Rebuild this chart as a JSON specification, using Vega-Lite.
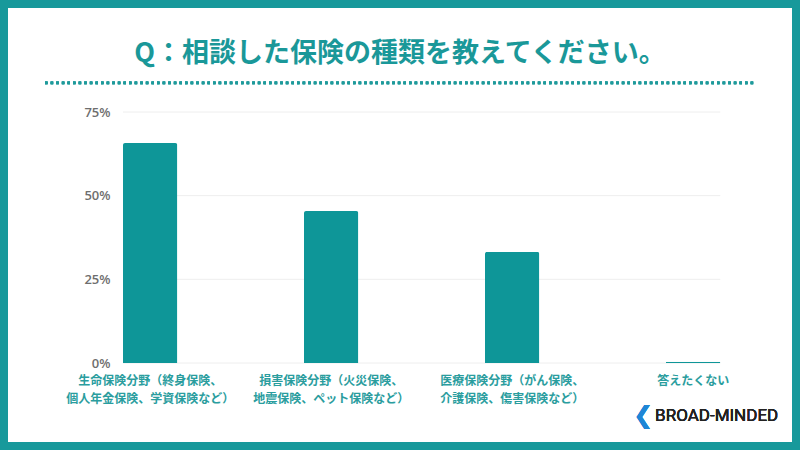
{
  "$schema": "https://vega.github.io/schema/vega-lite/v6.json",
  "width": 784,
  "height": 434,
  "autosize": {"type": "none"},
  "padding": 8,
  "background": "#17999b",
  "config": {
    "view": {"fill": "white", "stroke": null},
    "font": "Noto Sans CJK JP"
  },
  "title": {
    "text": "Q：相談した保険の種類を教えてください。",
    "font": "Noto Sans CJK JP",
    "fontSize": 27,
    "fontWeight": "bold",
    "color": "#1a9899",
    "anchor": "middle",
    "offset": -60
  },
  "data": {
    "values": [
      {"category": "生命保険分野（終身保険、個人年金保険、学資保険など）", "pct": 65.7},
      {"category": "損害保険分野（火災保険、地震保険、ペット保険など）", "pct": 45.4},
      {"category": "医療保険分野（がん保険、介護保険、傷害保険など）", "pct": 33.2},
      {"category": "答えたくない", "pct": 0.4}
    ]
  },
  "layer": [
    {
      "data": {"values": [{"v": 0}, {"v": 25}, {"v": 50}, {"v": 75}]},
      "mark": {"type": "rule", "color": "#eeeeee", "strokeWidth": 1},
      "encoding": {
        "x": {"datum": "生命保険分野（終身保険、個人年金保険、学資保険など）", "type": "nominal", "bandPosition": 0},
        "x2": {"datum": "答えたくない", "bandPosition": 1},
        "y": {"field": "v", "type": "quantitative"}
      }
    },
    {
      "mark": {"type": "bar", "color": "#0e9698", "cornerRadiusTopLeft": 2, "cornerRadiusTopRight": 2},
      "encoding": {
        "x": {
          "field": "category",
          "type": "nominal",
          "sort": null,
          "scale": {
            "domain": [
              "生命保険分野（終身保険、個人年金保険、学資保険など）",
              "損害保険分野（火災保険、地震保険、ペット保険など）",
              "医療保険分野（がん保険、介護保険、傷害保険など）",
              "答えたくない"
            ],
            "range": [37, 747], "paddingInner": 0.7, "paddingOuter": 0.3114, "align": 0.692, "round": false
          },
          "axis": {
            "title": null,
            "orient": "bottom",
            "offset": -79,
            "domain": false,
            "ticks": false,
            "labelAngle": 0,
            "labelAlign": "center",
            "labelBaseline": "top",
            "labelLimit": 400,
            "labelPadding": 12,
            "labelFont": "Noto Sans CJK JP",
            "labelFontSize": 12,
            "labelFontWeight": "bold",
            "labelColor": "#2a9d9e",
            "labelLineHeight": 18,
            "labelExpr": "indexof(datum.label, '、') < 0 ? datum.label : [slice(datum.label, 0, indexof(datum.label, '、') + 1), slice(datum.label, indexof(datum.label, '、') + 1)]"
          }
        },
        "y": {
          "field": "pct",
          "type": "quantitative",
          "scale": {"domain": [0, 75], "range": [355, 104], "nice": false, "zero": true},
          "axis": {
            "title": null,
            "values": [0, 25, 50, 75],
            "offset": -108,
            "domain": false,
            "ticks": false,
            "grid": false,
            "labelPadding": 6,
            "labelFont": "Open Sans",
            "labelFontSize": 13,
            "labelFontWeight": 600,
            "labelColor": "#6e6e6e",
            "labelExpr": "datum.value + '%'"
          }
        }
      }
    },
    {
      "mark": {"type": "rule", "color": "#1e9a9b", "strokeWidth": 2.6, "strokeDash": [2.6, 3]},
      "encoding": {
        "x": {"datum": "生命保険分野（終身保険、個人年金保険、学資保険など）", "type": "nominal", "bandPosition": -1.4365},
        "x2": {"datum": "答えたくない", "bandPosition": 1.639},
        "y": {"datum": 83.7, "type": "quantitative"}
      }
    },
    {
      "mark": {"type": "text", "text": "❮", "font": "DejaVu Sans", "fontSize": 24, "fontWeight": "bold", "color": "#1f86d6", "align": "center", "baseline": "middle"},
      "encoding": {
        "x": {"datum": "答えたくない", "type": "nominal", "bandPosition": -0.42},
        "y": {"datum": -15.8, "type": "quantitative"}
      }
    },
    {
      "mark": {"type": "text", "text": "BROAD-MINDED", "font": "Roboto", "fontSize": 17, "fontWeight": 400, "color": "#222222", "align": "left", "baseline": "middle"},
      "encoding": {
        "x": {"datum": "答えたくない", "type": "nominal", "bandPosition": -0.2},
        "y": {"datum": -15.8, "type": "quantitative"}
      }
    }
  ]
}
